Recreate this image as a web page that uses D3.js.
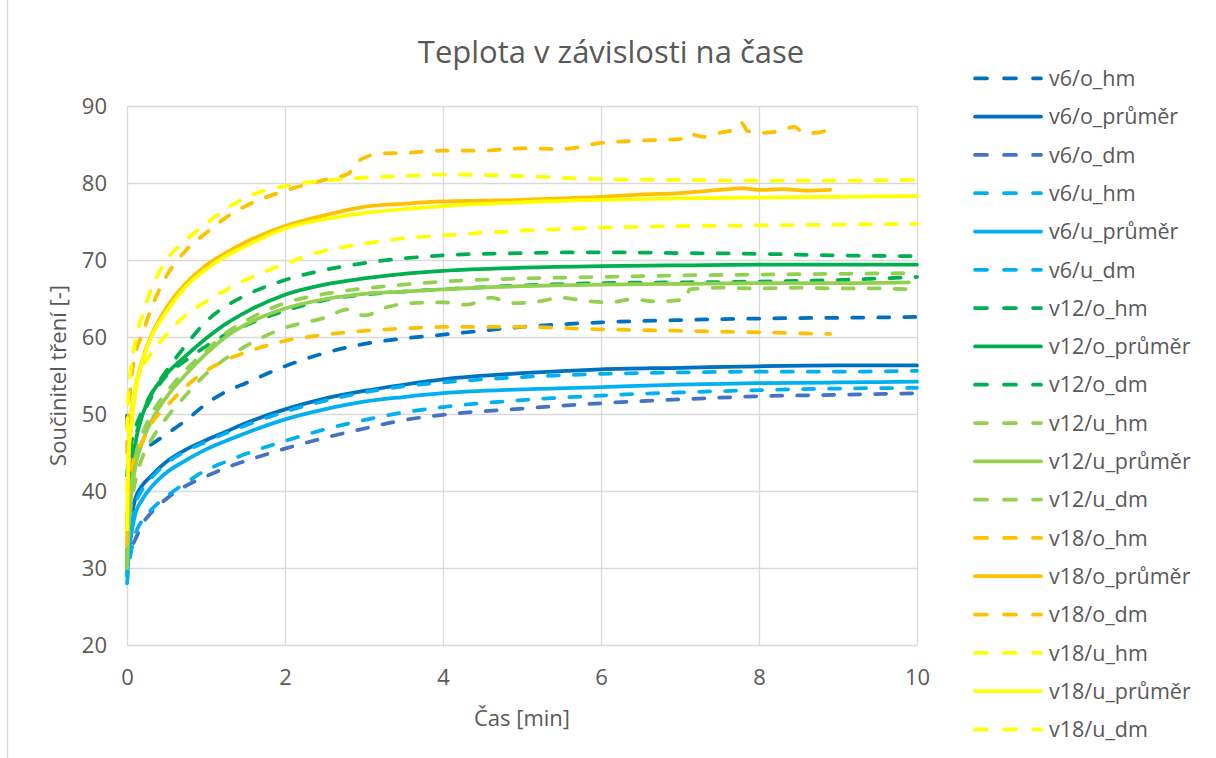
<!DOCTYPE html>
<html lang="cs">
<head>
<meta charset="utf-8">
<title>Teplota v závislosti na čase</title>
<script src="https://cdn.jsdelivr.net/npm/d3@7"></script>
<style>
  html, body { margin: 0; padding: 0; background: #ffffff; }
  svg { display: block; }
  text { font-family: "Open Sans", "Noto Sans", sans-serif; fill: #595959; }
</style>
</head>
<body>
<svg id="chart" width="1216" height="758"></svg>
<script>
// Čas [min] – společná časová osa měření
const casZakl = [0, 0.02, 0.05, 0.1, 0.2, 0.3, 0.5, 0.75, 1, 1.25, 1.5, 2, 2.5, 3, 3.5, 4, 5, 6, 7, 8, 9, 10];
const casDo99 = [0, 0.02, 0.05, 0.1, 0.2, 0.3, 0.5, 0.75, 1, 1.25, 1.5, 2, 2.5, 3, 3.5, 4, 5, 6, 7, 8, 9, 9.9];
const casV12uDm = [0, 0.02, 0.05, 0.1, 0.2, 0.3, 0.5, 0.75, 1, 1.25, 1.5, 2, 2.5, 2.8, 3, 3.3, 3.6, 4, 4.3, 4.6,
                   4.9, 5.2, 5.5, 5.8, 6.1, 6.4, 6.7, 7.0, 7.08, 7.12, 7.5, 8, 8.5, 9, 9.5, 9.9];
const casV18oHm = [0, 0.02, 0.05, 0.1, 0.2, 0.3, 0.5, 0.75, 1, 1.25, 1.5, 2, 2.5, 2.8, 2.95, 3.2, 3.5, 4, 4.5, 5,
                   5.5, 6, 6.5, 7, 7.1, 7.3, 7.5, 7.7, 7.78, 7.85, 8, 8.25, 8.45, 8.55, 8.7, 8.9];
const casV18oPrumer = [0, 0.02, 0.05, 0.1, 0.2, 0.3, 0.5, 0.75, 1, 1.25, 1.5, 2, 2.5, 3, 3.5, 4, 4.5, 5, 5.5, 6,
                       6.5, 7, 7.5, 7.8, 8, 8.3, 8.6, 8.9];
const casV18oDm = [0, 0.02, 0.05, 0.1, 0.2, 0.3, 0.5, 0.75, 1, 1.25, 1.5, 2, 2.5, 3, 3.5, 4, 5, 6, 7, 8, 8.9];

// Součinitel tření [-]
const v6_o_hm     = [49.8, 44, 43.5, 44.5, 45.4, 46, 47.4, 49.2, 51.3, 52.9, 54, 56.2, 57.9, 59.1, 59.8, 60.3, 61.3, 61.9, 62.2, 62.4, 62.5, 62.6];
const v6_o_prumer = [30, 33, 36, 38.8, 40.8, 41.9, 43.8, 45.4, 46.6, 47.7, 48.8, 50.6, 52, 53, 53.8, 54.5, 55.3, 55.8, 56, 56.2, 56.3, 56.3];
const v6_o_dm     = [30, 31.5, 32.5, 33.6, 35.8, 37.1, 39, 40.7, 41.9, 43, 43.9, 45.5, 46.9, 48.1, 49.2, 49.9, 50.7, 51.4, 51.9, 52.3, 52.5, 52.7];
const v6_u_hm     = [29, 32, 35, 38, 40.3, 41.6, 43.6, 45.2, 46.4, 47.5, 48.5, 50.3, 51.7, 52.8, 53.6, 54.1, 54.8, 55.2, 55.4, 55.5, 55.5, 55.6];
const v6_u_prumer = [29, 31.5, 34, 36.8, 39, 40.4, 42.4, 44, 45.4, 46.5, 47.5, 49.3, 50.6, 51.6, 52.2, 52.7, 53.2, 53.5, 53.8, 54, 54.1, 54.2];
const v6_u_dm     = [28, 30, 32, 34.2, 36.3, 37.5, 39.3, 41.1, 42.7, 43.8, 44.8, 46.5, 48, 49.2, 50.2, 50.9, 51.8, 52.4, 52.8, 53.1, 53.3, 53.4];
const v12_o_hm     = [42, 44, 46, 48, 50.5, 52.5, 55.6, 59, 62, 64, 65.4, 67.4, 68.7, 69.6, 70.2, 70.6, 70.9, 71, 70.9, 70.8, 70.6, 70.5];
const v12_o_prumer = [30, 37, 41.5, 45.8, 50, 52.4, 55.2, 57.6, 59.8, 61.7, 63.2, 65.5, 66.8, 67.6, 68.2, 68.6, 69, 69.2, 69.3, 69.4, 69.4, 69.4];
const v12_o_dm     = [31, 38, 43, 46.5, 49.8, 52, 55, 57, 58.8, 60.3, 61.5, 63.4, 64.8, 65.5, 65.9, 66.2, 66.7, 67, 67.1, 67.2, 67.4, 67.8];
const v12_u_hm     = [31, 36, 40, 44, 47.5, 49.8, 52.8, 55.8, 58.2, 60.5, 62.1, 64.4, 65.6, 66.3, 66.8, 67.2, 67.6, 67.8, 68, 68.1, 68.2, 68.3];
const v12_u_prumer = [30, 35, 39, 42.8, 46.5, 48.9, 52.2, 55.2, 57.8, 60, 61.6, 63.7, 64.9, 65.6, 65.9, 66.2, 66.6, 66.8, 66.9, 67, 67, 67.1];
const v12_u_dm     = [30, 35, 38, 41, 44.5, 46.5, 49.5, 52.5, 55.2, 57.2, 58.8, 61.2, 62.5, 63.6, 62.8, 63.9, 64.4, 64.5, 64.2, 65.1,
                      64.4, 64.6, 65.1, 64.7, 64.5, 64.9, 64.6, 64.8, 64.9, 66.2, 66.4, 66.3, 66.4, 66.3, 66.3, 66.2];
const v18_o_hm     = [45, 50, 54, 57.5, 60.5, 63.5, 67.9, 71.3, 73.5, 75.5, 77, 79, 80.4, 81.2, 83, 83.8, 83.9, 84.2, 84.2, 84.5,
                      84.4, 85.2, 85.5, 85.7, 86.4, 86, 86.5, 87, 87.8, 86.8, 86.5, 86.7, 87.3, 86.6, 86.5, 87];
const v18_o_prumer = [33, 44, 48.5, 52.6, 57.2, 60, 63.8, 67, 69.3, 70.9, 72.3, 74.4, 75.8, 76.9, 77.3, 77.6, 77.7, 77.8, 78, 78.2,
                      78.5, 78.7, 79.1, 79.3, 79.1, 79.2, 79, 79.1];
const v18_o_dm     = [36, 40, 42.5, 44.5, 46.5, 48.6, 51, 53.6, 55.6, 57, 58, 59.5, 60.3, 60.8, 61.1, 61.3, 61.3, 61, 60.8, 60.6, 60.4];
const v18_u_hm     = [48, 53, 56, 59.2, 63, 66, 70, 72.6, 74.7, 76.6, 78.1, 79.6, 80.3, 80.7, 80.9, 81.1, 80.9, 80.5, 80.4, 80.3, 80.3, 80.4];
const v18_u_prumer = [35, 45, 48, 52.4, 57, 59.8, 63.3, 66.6, 68.8, 70.5, 71.8, 74.1, 75.3, 76.1, 76.6, 77, 77.5, 77.8, 78, 78.1, 78.2, 78.3];
const v18_u_dm     = [40, 46, 50, 53.5, 56.2, 57.8, 60.3, 62.9, 64.6, 66.1, 67.4, 69.5, 71.2, 72.1, 72.8, 73.2, 73.8, 74.2, 74.4, 74.5, 74.6, 74.7];

// Popisky os
const xTicks = [0, 2, 4, 6, 8, 10];
const yTicks = [20, 30, 40, 50, 60, 70, 80, 90];

// Barvy skupin
const barvy = {
  v6o: "#0070C0", v6oDm: "#4472C4", v6u: "#00B0F0",
  v12o: "#00B050", v12u: "#92D050",
  v18o: "#FFC000", v18u: "#FFFF00"
};

const serie = [
  { nazev: "v6/o_hm",      barva: barvy.v6o,   carkovana: true,  cas: casZakl,       hodnoty: v6_o_hm },
  { nazev: "v6/o_průměr",  barva: barvy.v6o,   carkovana: false, cas: casZakl,       hodnoty: v6_o_prumer },
  { nazev: "v6/o_dm",      barva: barvy.v6oDm, carkovana: true,  cas: casZakl,       hodnoty: v6_o_dm },
  { nazev: "v6/u_hm",      barva: barvy.v6u,   carkovana: true,  cas: casZakl,       hodnoty: v6_u_hm },
  { nazev: "v6/u_průměr",  barva: barvy.v6u,   carkovana: false, cas: casZakl,       hodnoty: v6_u_prumer },
  { nazev: "v6/u_dm",      barva: barvy.v6u,   carkovana: true,  cas: casZakl,       hodnoty: v6_u_dm },
  { nazev: "v12/o_hm",     barva: barvy.v12o,  carkovana: true,  cas: casZakl,       hodnoty: v12_o_hm },
  { nazev: "v12/o_průměr", barva: barvy.v12o,  carkovana: false, cas: casZakl,       hodnoty: v12_o_prumer },
  { nazev: "v12/o_dm",     barva: barvy.v12o,  carkovana: true,  cas: casZakl,       hodnoty: v12_o_dm },
  { nazev: "v12/u_hm",     barva: barvy.v12u,  carkovana: true,  cas: casZakl,       hodnoty: v12_u_hm },
  { nazev: "v12/u_průměr", barva: barvy.v12u,  carkovana: false, cas: casDo99,       hodnoty: v12_u_prumer },
  { nazev: "v12/u_dm",     barva: barvy.v12u,  carkovana: true,  cas: casV12uDm,     hodnoty: v12_u_dm },
  { nazev: "v18/o_hm",     barva: barvy.v18o,  carkovana: true,  cas: casV18oHm,     hodnoty: v18_o_hm },
  { nazev: "v18/o_průměr", barva: barvy.v18o,  carkovana: false, cas: casV18oPrumer, hodnoty: v18_o_prumer },
  { nazev: "v18/o_dm",     barva: barvy.v18o,  carkovana: true,  cas: casV18oDm,     hodnoty: v18_o_dm },
  { nazev: "v18/u_hm",     barva: barvy.v18u,  carkovana: true,  cas: casZakl,       hodnoty: v18_u_hm },
  { nazev: "v18/u_průměr", barva: barvy.v18u,  carkovana: false, cas: casZakl,       hodnoty: v18_u_prumer },
  { nazev: "v18/u_dm",     barva: barvy.v18u,  carkovana: true,  cas: casZakl,       hodnoty: v18_u_dm }
];

const svg = d3.select("#chart");
const W = 1216, H = 758;
const plot = { left: 127, right: 917, top: 106, bottom: 645 };
const sirkaCary = 3.75;
const carky = "11 15";
const mrizka = "#d9d9d9";

svg.append("rect").attr("width", W).attr("height", H).attr("fill", "#ffffff");
// okraj oblasti grafu
svg.append("line").attr("x1", 7.5).attr("x2", 7.5).attr("y1", 0).attr("y2", H)
  .attr("stroke", mrizka).attr("stroke-width", 1.3);

const x = d3.scaleLinear().domain([0, 10]).range([plot.left, plot.right]);
const y = d3.scaleLinear().domain([20, 90]).range([plot.bottom, plot.top]);

// mřížka a popisky osy Y
const osaY = svg.append("g")
  .attr("transform", `translate(${plot.left},0)`)
  .call(d3.axisLeft(y).tickValues(yTicks).tickSize(-(plot.right - plot.left)).tickFormat(d3.format("d")));
osaY.select(".domain").remove();
osaY.selectAll(".tick line").attr("stroke", mrizka).attr("stroke-width", 1.3);
osaY.selectAll(".tick text").attr("x", -20).attr("dy", "0.36em")
  .style("font-size", "22px").attr("fill", "#595959");

// mřížka a popisky osy X
const osaX = svg.append("g")
  .attr("transform", `translate(0,${plot.bottom})`)
  .call(d3.axisBottom(x).tickValues(xTicks).tickSize(-(plot.bottom - plot.top)).tickFormat(d3.format("d")));
osaX.select(".domain").remove();
osaX.selectAll(".tick line").attr("stroke", mrizka).attr("stroke-width", 1.3);
osaX.selectAll(".tick text").attr("y", 40).attr("dy", 0)
  .style("font-size", "22px").attr("fill", "#595959");

// křivky
const cara = d3.line()
  .x(d => x(d[0]))
  .y(d => y(d[1]))
  .curve(d3.curveMonotoneX);

const gSerie = svg.append("g");
serie.forEach(s => {
  const body = s.cas.map((t, i) => [t, s.hodnoty[i]]);
  gSerie.append("path")
    .datum(body)
    .attr("d", cara)
    .attr("fill", "none")
    .attr("stroke", s.barva)
    .attr("stroke-width", sirkaCary)
    .attr("stroke-linecap", "round")
    .attr("stroke-linejoin", "round")
    .attr("stroke-dasharray", s.carkovana ? carky : null);
});

// nadpis
svg.append("text")
  .attr("x", 611).attr("y", 63)
  .attr("text-anchor", "middle")
  .style("font-size", "31px")
  .text("Teplota v závislosti na čase");

// názvy os
svg.append("text")
  .attr("x", (plot.left + plot.right) / 2).attr("y", 726)
  .attr("text-anchor", "middle")
  .style("font-size", "22px")
  .text("Čas [min]");

svg.append("text")
  .attr("transform", `translate(66,${(plot.top + plot.bottom) / 2}) rotate(-90)`)
  .attr("text-anchor", "middle")
  .style("font-size", "22px")
  .text("Součinitel tření [-]");

// legenda
const legenda = svg.append("g");
const legY0 = 78.3, legKrok = 38.3;
serie.forEach((s, i) => {
  const yy = legY0 + i * legKrok;
  legenda.append("line")
    .attr("x1", 975).attr("x2", 1041).attr("y1", yy).attr("y2", yy)
    .attr("stroke", s.barva)
    .attr("stroke-width", sirkaCary)
    .attr("stroke-linecap", "round")
    .attr("stroke-dasharray", s.carkovana ? "12 17" : null);
  legenda.append("text")
    .attr("x", 1049).attr("y", yy + 7.7)
    .style("font-size", "21.5px")
    .text(s.nazev);
});
</script>
</body>
</html>
